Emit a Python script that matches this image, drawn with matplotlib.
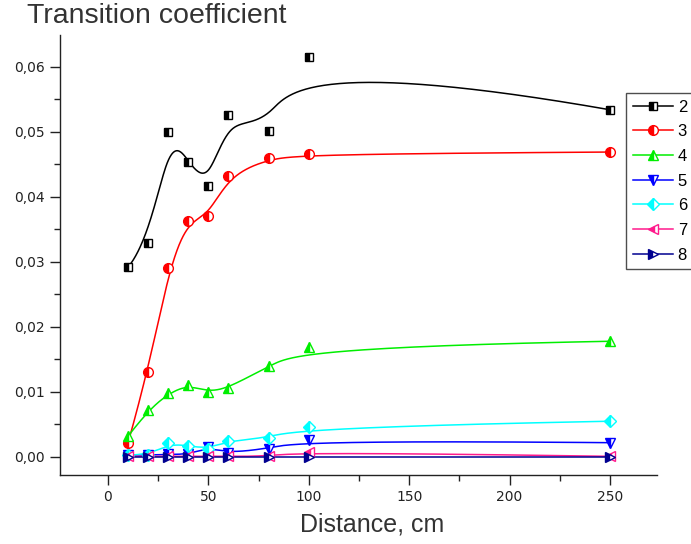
import numpy as np
import matplotlib
matplotlib.use("Agg")
import matplotlib.pyplot as plt
from matplotlib.ticker import FuncFormatter, MultipleLocator

# ---- data ----
distance = [10, 20, 30, 40, 50, 60, 80, 100, 250]
s2 = [0.0292, 0.0329, 0.0500, 0.0454, 0.0417, 0.0526, 0.0502, 0.0615, 0.0534]
s3 = [0.0022, 0.0131, 0.0291, 0.0363, 0.0371, 0.0432, 0.0460, 0.0466, 0.0469]
s4 = [0.0032, 0.0072, 0.0098, 0.0111, 0.0100, 0.0106, 0.0140, 0.0169, 0.0178]
s5 = [0.0003, 0.0003, 0.0004, 0.0004, 0.0015, 0.0006, 0.0013, 0.0026, 0.0022]
s6 = [0.0003, 0.0003, 0.0021, 0.0017, 0.0013, 0.0025, 0.0029, 0.0046, 0.0055]
s7 = [0.0001, 0.0001, 0.0001, 0.0001, 0.0001, 0.0001, 0.0001, 0.0008, 0.0001]
s8 = [0.0000, 0.0000, 0.0000, 0.0000, 0.0000, 0.0000, 0.0000, 0.0000, 0.0000]
labels = ["2", "3", "4", "5", "6", "7", "8"]
series = [s2, s3, s4, s5, s6, s7, s8]
colors = ["#000000", "#FF0000", "#00EE00", "#0000FF", "#00FFFF", "#FF1A8C", "#000090"]
markers = ["s", "o", "^", "v", "D", "<", ">"]
msizes = [6, 7, 7, 7, 6.5, 7, 7]


def bspline(px, py, n=400):
    """Clamped uniform cubic B-spline using data points as control points (Origin 'B-Spline')."""
    P = np.column_stack([px, py]).astype(float)
    m = len(P)
    k = 3
    inner = np.arange(1, m - k)
    knots = np.concatenate([np.zeros(k + 1), inner, np.full(k + 1, m - k)]).astype(float)
    t = np.linspace(0, m - k, n)
    t[-1] -= 1e-9
    N = np.zeros((n, len(knots) - 1))
    for i in range(len(knots) - 1):
        N[:, i] = ((knots[i] <= t) & (t < knots[i + 1])).astype(float)
    for d in range(1, k + 1):
        Nn = np.zeros((n, len(knots) - 1 - d))
        for i in range(len(knots) - 1 - d):
            a = knots[i + d] - knots[i]
            b = knots[i + d + 1] - knots[i + 1]
            term = np.zeros(n)
            if a > 0:
                term += (t - knots[i]) / a * N[:, i]
            if b > 0:
                term += (knots[i + d + 1] - t) / b * N[:, i + 1]
            Nn[:, i] = term
        N = Nn
    C = N @ P
    return C[:, 0], C[:, 1]


plt.rcParams["font.family"] = ["Liberation Sans", "DejaVu Sans"]
fig = plt.figure(figsize=(6.91, 5.44), dpi=100)
ax = fig.add_axes([60 / 691, 1 - 475 / 544, (657 - 60) / 691, (475 - 35) / 544])

for ys, lab, c, mk, ms in zip(series, labels, colors, markers, msizes):
    cx, cy = bspline(distance, ys)
    ax.plot(cx, cy, color=c, lw=1.1, zorder=2)
    ax.plot(distance, ys, linestyle="none", marker=mk, ms=ms, color=c,
            fillstyle="left", markerfacecoloralt="white", markeredgecolor=c,
            markeredgewidth=1.0, zorder=3)
    ax.plot([], [], color=c, lw=1.1, marker=mk, ms=ms, fillstyle="left",
            markerfacecoloralt="white", markeredgecolor=c, label=lab)

ax.set_xlim(-23.9, 273.4)
ax.set_ylim(-0.00277, 0.0649)

for s in ["top", "right"]:
    ax.spines[s].set_visible(False)
for s in ["left", "bottom"]:
    ax.spines[s].set_linewidth(1.0)
    ax.spines[s].set_color("#222222")

ax.xaxis.set_major_locator(MultipleLocator(50))
ax.xaxis.set_minor_locator(MultipleLocator(25))
ax.yaxis.set_major_locator(MultipleLocator(0.01))
ax.yaxis.set_minor_locator(MultipleLocator(0.005))
ax.yaxis.set_major_formatter(FuncFormatter(lambda v, p: f"{v:.2f}".replace(".", ",")))
ax.xaxis.set_major_formatter(FuncFormatter(lambda v, p: f"{v:.0f}"))
ax.tick_params(axis="both", which="major", length=7, width=1.0, direction="out",
               labelsize=10, colors="#222222", pad=4)
ax.tick_params(axis="both", which="minor", length=4, width=1.0, direction="out",
               colors="#222222")
for lbl in ax.get_xticklabels() + ax.get_yticklabels():
    lbl.set_family("DejaVu Sans")

fig.text(27 / 691, 1 - 16 / 544, "Transition coefficient", fontsize=20.5,
         color="#333333", va="center", ha="left")
ax.set_xlabel("Distance, cm", fontsize=18, color="#333333", labelpad=6)
ax.xaxis.set_label_coords((372 - 60) / 597, -0.085)

leg = fig.legend(loc="upper left", bbox_to_anchor=(626 / 691, 1 - 93 / 544),
                 fontsize=12, frameon=True, fancybox=False, edgecolor="#222222",
                 handlelength=2.4, handletextpad=0.3, labelspacing=0.58,
                 borderpad=0.4, borderaxespad=0, numpoints=1)
leg.get_frame().set_linewidth(1.0)

fig.savefig("out.png", dpi=100)
